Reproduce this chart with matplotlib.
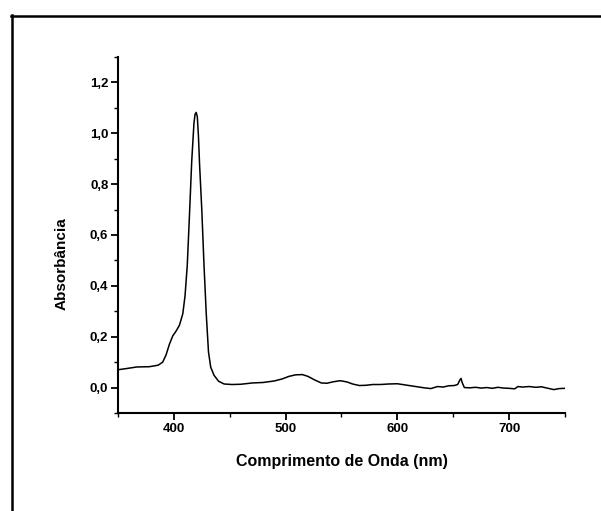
import matplotlib.pyplot as plt
from matplotlib.lines import Line2D
from matplotlib.ticker import MultipleLocator, FuncFormatter

# UV-Vis spectrum: wavelength (nm) and absorbance
wavelength = [350, 358, 367, 378, 386, 390, 393, 396, 399, 402, 405, 408, 410, 412,
              414, 416, 418, 419, 420, 421, 422, 423, 425, 427, 429, 431, 433, 436,
              440, 445, 452, 460, 470, 480, 490, 497, 503, 509, 515, 520, 526, 532,
              537, 543, 549, 555, 560, 566, 572, 578, 585, 592, 600, 606, 612, 618,
              624, 630, 636, 641, 646, 651, 654, 656, 657, 658, 660, 665, 670, 675,
              680, 685, 690, 695, 700, 705, 708, 712, 718, 724, 729, 734, 740, 745, 750]
absorbance = [0.070, 0.075, 0.081, 0.082, 0.088, 0.100, 0.128, 0.170, 0.203, 0.222,
              0.245, 0.290, 0.360, 0.480, 0.680, 0.890, 1.040, 1.075, 1.082, 1.065,
              0.990, 0.880, 0.700, 0.480, 0.290, 0.140, 0.080, 0.048, 0.025, 0.014,
              0.012, 0.013, 0.018, 0.020, 0.026, 0.034, 0.044, 0.050, 0.051, 0.044,
              0.030, 0.018, 0.017, 0.023, 0.027, 0.022, 0.014, 0.008, 0.009, 0.012,
              0.012, 0.014, 0.015, 0.011, 0.007, 0.003, -0.001, -0.004, 0.004, 0.002,
              0.007, 0.008, 0.012, 0.030, 0.036, 0.020, 0.000, -0.001, 0.001, -0.002,
              0.000, -0.003, 0.001, -0.002, -0.003, -0.005, 0.004, 0.002, 0.004, 0.001,
              0.003, -0.002, -0.008, -0.004, -0.003]

x_ticks = [400, 500, 600, 700]
y_ticks = [0.0, 0.2, 0.4, 0.6, 0.8, 1.0, 1.2]

plt.rcParams["font.family"] = ["Liberation Sans", "DejaVu Sans"]

fig = plt.figure(figsize=(6.01, 5.11), dpi=100)
ax = fig.add_axes([0.1963, 0.1918, 0.7437, 0.6967])

ax.plot(wavelength, absorbance, color="black", linewidth=1.1)

ax.set_xlim(350, 750)
ax.set_ylim(-0.1, 1.3)
ax.set_xticks(x_ticks)
ax.set_yticks(y_ticks)
ax.xaxis.set_minor_locator(MultipleLocator(50))
ax.yaxis.set_minor_locator(MultipleLocator(0.1))
ax.yaxis.set_major_formatter(FuncFormatter(lambda v, _: f"{v:.1f}".replace(".", ",")))

for side in ("top", "right"):
    ax.spines[side].set_visible(False)
for side in ("left", "bottom"):
    ax.spines[side].set_linewidth(1.5)

ax.tick_params(which="major", direction="out", length=5, width=1.3, pad=2,
               labelsize=9.5)
ax.tick_params(which="minor", direction="out", length=3, width=1.0)
for lbl in ax.get_xticklabels() + ax.get_yticklabels():
    lbl.set_fontweight("bold")

ax.set_xlabel("Comprimento de Onda (nm)", fontsize=11.5, fontweight="bold")
ax.set_ylabel("Absorbância", fontsize=11, fontweight="bold")
ax.yaxis.set_label_coords(-0.11, 0.42)
ax.xaxis.set_label_coords(0.5, -0.115)

# outer frame lines (top and left)
fig.add_artist(Line2D([11 / 601, 1.0], [1 - 16 / 511] * 2, color="black",
                      linewidth=1.8, transform=fig.transFigure))
fig.add_artist(Line2D([12 / 601] * 2, [0.0, 1 - 15 / 511], color="black",
                      linewidth=1.8, transform=fig.transFigure))

fig.savefig("out.png", dpi=100)
